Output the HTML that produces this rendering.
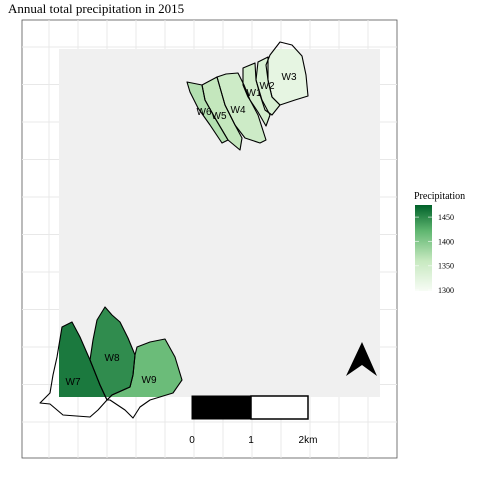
<!DOCTYPE html>
<html><head><meta charset="utf-8"><style>
body{margin:0;background:#fff;}
svg{display:block;}
</style></head><body>
<svg id="c" width="480" height="480" xmlns="http://www.w3.org/2000/svg">
<text x="8" y="13" font-family="Liberation Serif, serif" font-size="13" fill="#000">Annual total precipitation in 2015</text>
<rect x="22" y="20" width="375" height="438" fill="#fff" stroke="#555" stroke-width="0.8"/>
<g id="grid"></g>
<defs><clipPath id="rclip"><rect x="59" y="49" width="321" height="348"/></clipPath></defs>
<rect x="59" y="49" width="321" height="348" fill="#f0f0f0"/>
<g id="fills" clip-path="url(#rclip)"></g>
<g id="outlines"></g>
<g id="labels"></g>
<polygon points="362,342 377,376 362,365 346,376" fill="#000"/>
<g>
<rect x="192" y="396" width="59" height="23" fill="#000" stroke="#000"/>
<rect x="251" y="396" width="57" height="23" fill="#fff" stroke="#000" stroke-width="1.5"/>
<text x="192" y="443" font-family="Liberation Sans, sans-serif" font-size="10" text-anchor="middle">0</text>
<text x="251" y="443" font-family="Liberation Sans, sans-serif" font-size="10" text-anchor="middle">1</text>
<text x="308" y="443" font-family="Liberation Sans, sans-serif" font-size="10" text-anchor="middle">2km</text>
</g>
<g id="legend">
<text x="414" y="199" font-family="Liberation Serif, serif" font-size="10">Precipitation</text>
<defs><linearGradient id="lg" x1="0" y1="1" x2="0" y2="0">
<stop offset="0" stop-color="#f7fcf5"/><stop offset="0.35" stop-color="#c7e9c0"/><stop offset="0.7" stop-color="#5fb670"/><stop offset="1" stop-color="#00612a"/></linearGradient></defs>
<rect x="415" y="205" width="17" height="86" fill="url(#lg)"/>
</g>
</svg>
<script>
const legendTicks=[1300,1350,1400,1450];
const shedNames=["W1","W2","W3","W4","W5","W6","W7","W8","W9"];
const shedValues=[1345,1338,1320,1352,1362,1372,1460,1448,1415];
const ns="http://www.w3.org/2000/svg";
const svg=document.getElementById('c');
const vMin=1298,vMax=1475,barTop=205,barBot=291;
function yScale(v){return barBot-(v-vMin)/(vMax-vMin)*(barBot-barTop);}
function colorOf(v){
 const t=Math.max(0,Math.min(1,(v-vMin)/(vMax-vMin)));
 const stops=[[0,[247,252,245]],[0.35,[199,233,192]],[0.7,[95,182,112]],[1,[0,97,42]]];
 for(let i=1;i<stops.length;i++){if(t<=stops[i][0]){const a=stops[i-1],b=stops[i];const f=(t-a[0])/(b[0]-a[0]);
 return 'rgb('+a[1].map((c,k)=>Math.round(c+(b[1][k]-c)*f)).join(',')+')';}}
 return 'rgb(0,97,42)';
}
const g=document.getElementById('grid');
for(let x=49;x<397;x+=29){const l=document.createElementNS(ns,'line');l.setAttribute('x1',x);l.setAttribute('x2',x);l.setAttribute('y1',20);l.setAttribute('y2',458);l.setAttribute('stroke','#e8e8e8');l.setAttribute('stroke-width','1');


g.appendChild(l);}
for(let y=47;y<458;y+=37.5){const l=document.createElementNS(ns,'line');l.setAttribute('y1',y);l.setAttribute('y2',y);l.setAttribute('x1',22);l.setAttribute('x2',397);l.setAttribute('stroke','#e8e8e8');l.setAttribute('stroke-width','1');


g.appendChild(l);}
const shapes={
W1:"243,68 255,63 256,80 262,100 270,115 266,126 258,112 248,97 243,85",
W2:"258,62 268,57 268,80 272,97 280,105 272,115 265,110 260,95 256,80",
W3:"280,42 292,45 302,56 306,75 308,96 295,100 280,105 272,97 268,80 266,65 270,55",
W4:"217,77 226,74 238,73 244,85 250,100 258,115 266,140 260,143 245,138 235,125 225,105",
W5:"202,85 217,77 225,105 235,125 242,138 240,150 228,140 215,118 205,100",
W6:"187,82 202,85 205,100 215,118 228,140 222,143 210,125 198,108 190,92",
W7:"72,322 80,337 90,360 100,385 107,400 98,410 90,417 63,415 50,404 40,403 50,393 53,375 57,357 62,327",
W8:"105,307 112,315 120,322 128,338 135,355 133,375 130,387 112,395 107,400 100,385 90,360 93,340 97,320",
W9:"137,347 150,342 165,339 175,357 182,380 173,393 150,400 140,407 133,418 125,410 110,400 107,400 112,395 130,387 133,375 135,355"};
const labelPos={W1:[254,92],W2:[267,85],W3:[289,76],W4:[238,109],W5:[219,115],W6:[204,111],W7:[73,381],W8:[112,357],W9:[149,379]};
const fills=document.getElementById('fills'),outs=document.getElementById('outlines'),labs=document.getElementById('labels');
shedNames.forEach((n,i)=>{
 const f=document.createElementNS(ns,'polygon');f.setAttribute('points',shapes[n]);f.setAttribute('fill',colorOf(shedValues[i]));
 
 
 fills.appendChild(f);
 const o=document.createElementNS(ns,'polygon');o.setAttribute('points',shapes[n]);o.setAttribute('fill','none');o.setAttribute('stroke','#000');o.setAttribute('stroke-width','1.1');o.setAttribute('stroke-linejoin','round');
 
 
 outs.appendChild(o);
 const t=document.createElementNS(ns,'text');t.setAttribute('x',labelPos[n][0]);t.setAttribute('y',labelPos[n][1]+4);t.setAttribute('text-anchor','middle');
 t.setAttribute('font-family','Liberation Sans, sans-serif');t.setAttribute('font-size','10');t.textContent=n;
 
 
 labs.appendChild(t);
});
const lg=document.getElementById('legend');
legendTicks.forEach(v=>{
 const y=yScale(v);
 [[415,419],[428,432]].forEach(p=>{const l=document.createElementNS(ns,'line');l.setAttribute('x1',p[0]);l.setAttribute('x2',p[1]);l.setAttribute('y1',y);l.setAttribute('y2',y);l.setAttribute('stroke','#fff');l.setAttribute('stroke-opacity','0.6');
 
 
 lg.appendChild(l);});
 const t=document.createElementNS(ns,'text');t.setAttribute('x',438);t.setAttribute('y',y+3);t.setAttribute('font-family','Liberation Serif, serif');t.setAttribute('font-size','8');t.textContent=v;
 
 
 lg.appendChild(t);
});
</script>
</body></html>
